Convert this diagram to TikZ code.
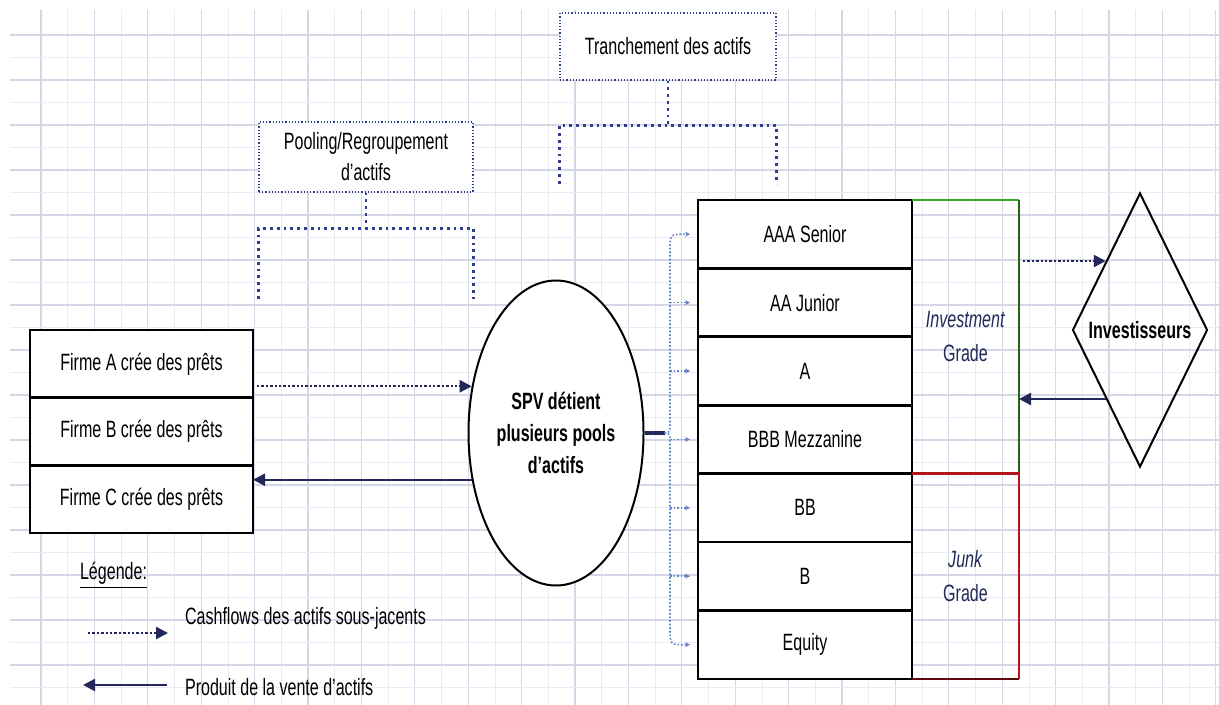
\documentclass[tikz,border=0pt]{standalone}
\usepackage{fontspec}
\setmainfont{Liberation Sans}[FakeStretch=0.68]
\usepackage{xcolor}
\usetikzlibrary{positioning,shapes.geometric,arrows.meta}

\definecolor{gridmajc}{HTML}{D6D7E6}
\definecolor{gridminc}{HTML}{EAEAF2}
\definecolor{inknavy}{HTML}{22285A}
\definecolor{dotblue}{HTML}{2B3F8C}
\definecolor{braceblue}{HTML}{5A7EC4}
\definecolor{invgreen}{HTML}{3DA52E}
\definecolor{junkred}{HTML}{B3121B}

\begin{document}
\begin{tikzpicture}[
  x=0.5pt, y=-0.5pt,
  font=\fontsize{11.8pt}{15.5pt}\selectfont,
  gridmaj/.style={draw=gridmajc, line width=0.6pt},
  gridmin/.style={draw=gridminc, line width=0.4pt},
  firmbox/.style={rectangle, draw, fill=white, line width=1.3pt, outer sep=0pt, minimum width=111.5pt, minimum height=33.85pt, inner sep=0pt},
  tranche/.style={rectangle, draw, fill=white, line width=1.3pt, outer sep=0pt, minimum width=107pt, minimum height=34.2pt, inner sep=0pt},
  gradebox/.style={rectangle, anchor=north west, align=center, inner sep=0pt, outer sep=0pt, minimum width=53.5pt, text=inknavy, font=\fontsize{11.8pt}{17pt}\selectfont},
  notebox/.style={rectangle, draw=dotblue, densely dotted, line width=0.6pt, fill=white, align=center},
  bracket/.style={draw=dotblue, dotted, line width=1.4pt},
  cashflow/.style={-{Triangle[length=6pt,width=6pt]}, draw=inknavy, densely dotted, line width=1.2pt},
  proceeds/.style={-{Triangle[length=6pt,width=6pt]}, draw=inknavy, line width=1.2pt},
  brace/.style={draw=braceblue, densely dotted, line width=0.8pt},
  bracetick/.style={brace, -{Stealth[length=2.5pt,width=2.5pt]}},
]
  \useasboundingbox (0,0) rectangle (1219,705);
  \fill[white] (0,0) rectangle (1219,705);

  % grid paper
  \foreach \gx in {0,...,21} {
    \draw[gridmin] ({67.7+53.4*\gx},10) -- ({67.7+53.4*\gx},705);
  }
  \foreach \gx in {0,...,22} {
    \draw[gridmaj] ({41+53.4*\gx},10) -- ({41+53.4*\gx},705);
  }
  \foreach \gy in {0,...,14} {
    \draw[gridmin] (10,{57.5+45*\gy}) -- (1219,{57.5+45*\gy});
    \draw[gridmaj] (10,{35+45*\gy}) -- (1219,{35+45*\gy});
  }

  % firms
  \node[firmbox] (firmA) at (141.5,363.8) {Firme A crée des prêts};
  \node[firmbox, below=0pt of firmA] (firmB) {Firme B crée des prêts};
  \node[firmbox, below=0pt of firmB] (firmC) {Firme C crée des prêts};

  % SPV
  \node[ellipse, draw, fill=white, line width=1pt, minimum width=87.5pt, minimum height=152.5pt, inner sep=1pt, align=center, font=\fontsize{11.8pt}{16pt}\selectfont\bfseries] (spv) at (556,433) {SPV détient\\plusieurs pools\\d'actifs};

  % notes and brackets
  \node[notebox, minimum width=107pt, minimum height=35pt] (pool) at (366,157) {Pooling/Regroupement\\d'actifs};
  \node[notebox, minimum width=108pt, minimum height=33.5pt] (tranching) at (668,46.5) {Tranchement des actifs};

  \draw[bracket] (pool.south) -- ++(0,36);
  \draw[bracket] ([yshift=-53pt]pool.south west) |- ([yshift=-18pt]pool.south) -| ([yshift=-53pt]pool.south east);
  \draw[bracket] (tranching.south) -- ++(0,45);
  \draw[bracket] ([yshift=-51.5pt]tranching.south west) |- ([yshift=-22.5pt]tranching.south) -| ([yshift=-51.5pt]tranching.south east);

  % tranches
  \node[tranche] (tAAA) at (805,234.2) {AAA Senior};
  \node[tranche, below=0pt of tAAA] (tAA) {AA Junior};
  \node[tranche, below=0pt of tAA] (tA) {A};
  \node[tranche, below=0pt of tA] (tBBB) {BBB Mezzanine};
  \node[tranche, below=0pt of tBBB] (tBB) {BB};
  \node[tranche, below=0pt of tBB] (tB) {B};
  \node[tranche, below=0pt of tB] (tEq) {Equity};

  % grades
  \node[gradebox, minimum height=136.8pt] (inv) at (tAAA.north east) {\textit{Investment}\\Grade};
  \node[gradebox, minimum height=102.6pt] (junk) at (tBB.north east) {\textit{Junk}\\Grade};
  \draw[invgreen, line width=1.4pt] (inv.north west) -- (inv.north east);
  \draw[invgreen!60!black, line width=0.8pt] (inv.north east) -- (inv.south east);
  \draw[junkred, line width=0.8pt] (junk.north east) -- (junk.south east);
  \draw[junkred, line width=1.6pt] (junk.north west) -- (junk.north east);
  \draw[junkred!50!black, line width=1.3pt] (junk.south west) -- (junk.south east);

  % investors
  \node[diamond, draw, line width=1pt, minimum width=67.5pt, minimum height=137pt, inner sep=1pt, font=\fontsize{11.8pt}{15.5pt}\selectfont\bfseries] (invest) at (1140,330) {Investisseurs};

  % flows
  \draw[cashflow] ([xshift=2pt]firmA.east |- spv.151) -- (spv.151);
  \draw[proceeds] (spv.209) -- (firmA.east |- spv.209);
  \draw[cashflow] ([xshift=2pt]inv.east |- invest.north west) -- (invest.north west);
  \draw[proceeds] (invest.south west) -- (inv.east |- invest.south west);

  % brace to the tranches
  \coordinate (braceTip) at ([xshift=10pt]spv.east);
  \draw[draw=inknavy, line width=2pt] (spv.east) -- (braceTip);
  \draw[bracetick] (braceTip) .. controls (670,433) .. (670,418) -- (670,250) .. controls (670,234) .. ([xshift=-4pt]tAAA.west);
  \draw[bracetick] (braceTip) .. controls (670,433) .. (670,448) -- (670,628) .. controls (670,645) .. ([xshift=-4pt]tEq.west);
  \foreach \t in {tAA,tA,tBBB,tBB,tB} {
    \draw[bracetick] ([xshift=-14pt]\t.west) -- ([xshift=-4pt]\t.west);
  }

  % legend
  \node[anchor=west] (legend) at (73,575) {\underline{Légende:}};
  \coordinate (lgCashA) at (88,633);
  \coordinate (lgCashB) at (168,633);
  \draw[cashflow] (lgCashA) -- (lgCashB);
  \node[anchor=west] (lgCash) at (178,618) {Cashflows des actifs sous-jacents};
  \coordinate (lgSaleA) at (167,685);
  \coordinate (lgSaleB) at (83,685);
  \draw[proceeds] (lgSaleA) -- (lgSaleB);
  \node[anchor=west] (lgSale) at (178,687) {Produit de la vente d'actifs};
\end{tikzpicture}
\end{document}
